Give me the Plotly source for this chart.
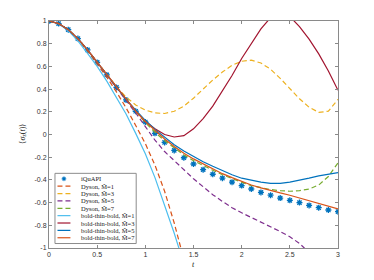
import plotly.graph_objects as go

# ---------------- data ----------------
T = [0.0, 0.1, 0.2, 0.3, 0.4, 0.5, 0.6, 0.7, 0.8, 0.9, 1.0,
     1.1, 1.2, 1.3, 1.4, 1.5, 1.6, 1.7, 1.8, 1.9, 2.0,
     2.1, 2.2, 2.3, 2.4, 2.5, 2.6, 2.7, 2.8, 2.9, 3.0]

iquapi = [1.0, 0.977, 0.924, 0.845, 0.745, 0.635, 0.525, 0.415, 0.305, 0.205, 0.11,
          0.01, -0.07, -0.14, -0.205, -0.26, -0.31, -0.35, -0.385, -0.42, -0.45,
          -0.48, -0.51, -0.535, -0.56, -0.58, -0.60, -0.625, -0.645, -0.665, -0.68]

dyson_m1 = [1.0, 0.977, 0.922, 0.84, 0.735, 0.625, 0.505, 0.375, 0.235, 0.08, -0.08,
            -0.27, -0.50, -0.78, -1.10, None, None, None, None, None, None,
            None, None, None, None, None, None, None, None, None, None]

dyson_m3 = [1.0, 0.977, 0.924, 0.845, 0.745, 0.635, 0.525, 0.42, 0.33, 0.26, 0.215,
            0.19, 0.185, 0.205, 0.25, 0.32, 0.40, 0.48, 0.55, 0.61, 0.645,
            0.655, 0.63, 0.575, 0.495, 0.405, 0.315, 0.24, 0.195, 0.205, 0.31]

dyson_m5 = [1.0, 0.977, 0.924, 0.845, 0.745, 0.635, 0.525, 0.415, 0.305, 0.19, 0.07,
            -0.05, -0.15, -0.23, -0.31, -0.39, -0.46, -0.53, -0.59, -0.645, -0.69,
            -0.73, -0.77, -0.81, -0.855, -0.90, -0.96, -1.04, None, None, None]

dyson_m7 = [1.0, 0.977, 0.924, 0.845, 0.745, 0.635, 0.525, 0.415, 0.305, 0.205, 0.105,
            0.02, -0.055, -0.12, -0.18, -0.23, -0.275, -0.315, -0.355, -0.39, -0.42,
            -0.45, -0.47, -0.485, -0.495, -0.50, -0.495, -0.48, -0.445, -0.37, -0.25]

btb_m1 = [1.0, 0.976, 0.915, 0.825, 0.715, 0.60, 0.47, 0.33, 0.18, 0.01, -0.17,
          -0.38, -0.62, -0.87, -1.14, None, None, None, None, None, None,
          None, None, None, None, None, None, None, None, None, None]

btb_m3 = [1.0, 0.977, 0.924, 0.845, 0.745, 0.635, 0.525, 0.415, 0.31, 0.21, 0.115,
          0.05, 0.0, -0.022, -0.01, 0.05, 0.14, 0.25, 0.38, 0.52, 0.67,
          0.80, 0.93, 1.03, 1.08, 1.04, 0.95, 0.84, 0.71, 0.56, 0.39]

btb_m5 = [1.0, 0.977, 0.924, 0.845, 0.745, 0.635, 0.525, 0.415, 0.31, 0.215, 0.125,
          0.045, -0.025, -0.09, -0.145, -0.195, -0.24, -0.28, -0.32, -0.355, -0.385,
          -0.405, -0.42, -0.43, -0.43, -0.42, -0.405, -0.385, -0.365, -0.35, -0.335]

btb_m7 = [1.0, 0.977, 0.924, 0.845, 0.745, 0.635, 0.525, 0.415, 0.305, 0.205, 0.115,
          0.035, -0.04, -0.105, -0.165, -0.215, -0.26, -0.305, -0.345, -0.38, -0.415,
          -0.445, -0.47, -0.495, -0.515, -0.535, -0.56, -0.58, -0.605, -0.63, -0.655]

x_tickvals = [0, 0.5, 1, 1.5, 2, 2.5, 3]
x_ticktext = ["0", "0.5", "1", "1.5", "2", "2.5", "3"]
y_tickvals = [-1, -0.8, -0.6, -0.4, -0.2, 0, 0.2, 0.4, 0.6, 0.8, 1]
y_ticktext = ["-1", "-0.8", "-0.6", "-0.4", "-0.2", "0", "0.2", "0.4", "0.6", "0.8", "1"]

legend_labels = ["iQuAPI",
                 "Dyson, M\u0302=1", "Dyson, M\u0302=3", "Dyson, M\u0302=5", "Dyson, M\u0302=7",
                 "bold-thin-bold, M\u0302=1", "bold-thin-bold, M\u0302=3",
                 "bold-thin-bold, M\u0302=5", "bold-thin-bold, M\u0302=7"]

# ---------------- styles ----------------
C_BLUE = "#0072BD"
C_ORANGE = "#D95319"
C_YELLOW = "#EDB120"
C_PURPLE = "#7E2F8E"
C_GREEN = "#77AC30"
C_CYAN = "#4DBEEE"
C_RED = "#A2142F"
DASH = "5px,3px"
LW = 1.2

line_series = [
    (dyson_m1, C_ORANGE, DASH),
    (dyson_m3, C_YELLOW, DASH),
    (dyson_m5, C_PURPLE, DASH),
    (dyson_m7, C_GREEN, DASH),
    (btb_m1, C_CYAN, "solid"),
    (btb_m3, C_RED, "solid"),
    (btb_m5, C_BLUE, "solid"),
    (btb_m7, C_ORANGE, "solid"),
]

fig = go.Figure()

fig.add_trace(go.Scatter(
    x=T, y=iquapi, mode="markers", showlegend=False,
    marker=dict(symbol="asterisk-open", size=5, color=C_BLUE,
                line=dict(color="#2a86cc", width=1.3)),
    cliponaxis=True))

for ys, col, dash in line_series:
    fig.add_trace(go.Scatter(
        x=T, y=ys, mode="lines", showlegend=False,
        line=dict(color=col, width=LW, dash=dash)))

# ---------------- layout geometry ----------------
OFF = 8                      # page body margin offset
W, H = 374, 280
PX0, PX1 = 48.5, 338.5       # target plot-area edges in page pixels
PY0, PY1 = 20.5, 248.5
L = PX0 - OFF
TOP = PY0 - OFF
PW, PH = PX1 - PX0, PY1 - PY0
R = W - L - PW
BOT = H - TOP - PH


def px2paper(xp, yp):
    return (xp - PX0) / PW, (PY1 - yp) / PH


# ---------------- manual legend (MATLAB-like compact box) ----------------
shapes = []
bx0, by0 = px2paper(54.5, 244)
bx1, by1 = px2paper(136, 173.5)
shapes.append(dict(type="rect", xref="paper", yref="paper", x0=bx0, x1=bx1,
                   y0=by0, y1=by1, fillcolor="white",
                   line=dict(color="#8c8c8c", width=1), layer="above"))

annotations = []
entry_styles = [(C_BLUE, None)] + [(c, d) for _, c, d in line_series]
for i, (lab, (col, dash)) in enumerate(zip(legend_labels, entry_styles)):
    yp = 179 + 7.4 * i
    xs0, yy = px2paper(57, yp)
    xs1, _ = px2paper(70, yp)
    if dash is None:
        cx, cy = px2paper(63.5, yp)
        r = 2.0
        rx, ry = r / PW, r / PH
        shapes.append(dict(type="circle", xref="paper", yref="paper",
                           x0=cx - rx, x1=cx + rx, y0=cy - ry, y1=cy + ry,
                           fillcolor=C_BLUE, line=dict(color="#6aaee0", width=0.8),
                           layer="above"))
    else:
        shapes.append(dict(type="line", xref="paper", yref="paper",
                           x0=xs0, x1=xs1, y0=yy, y1=yy, layer="above",
                           line=dict(color=col, width=LW, dash=dash)))
    tx, _ = px2paper(78.5, yp)
    annotations.append(dict(xref="paper", yref="paper", x=tx, y=yy,
                            xanchor="left", yanchor="middle", showarrow=False,
                            text=lab, font=dict(family="Liberation Serif", size=6.5,
                                                color="#222222")))

# axis titles
xt, yt = px2paper(193, 265)
annotations.append(dict(xref="paper", yref="paper", x=xt, y=yt, showarrow=False,
                        xanchor="center", yanchor="middle", text="<i>t</i>",
                        font=dict(family="Liberation Serif", size=8, color="#222222")))
xt2, yt2 = px2paper(22, 134)
annotations.append(dict(xref="paper", yref="paper", x=xt2, y=yt2, showarrow=False,
                        xanchor="center", yanchor="middle", textangle=-90,
                        text="\u27e8<i>σ</i><sub>z</sub>(<i>t</i>)\u27e9",
                        font=dict(family="Liberation Serif", size=8, color="#222222")))

axis_common = dict(showline=True, mirror="ticks", linecolor="#8a8a8a", linewidth=1,
                   ticks="inside", ticklen=3, tickcolor="#8a8a8a", tickwidth=1,
                   showgrid=False, zeroline=False,
                   tickfont=dict(family="Liberation Sans", size=7, color="#333333"))

fig.update_layout(
    width=W, height=H,
    margin=dict(l=L, r=R, t=TOP, b=BOT, autoexpand=False),
    paper_bgcolor="white", plot_bgcolor="white",
    xaxis=dict(range=[0, 3], tickvals=x_tickvals, ticktext=x_ticktext, **axis_common),
    yaxis=dict(range=[-1, 1], tickvals=y_tickvals, ticktext=y_ticktext, **axis_common),
    shapes=shapes, annotations=annotations, showlegend=False,
)

fig.write_html("out.html", config={"displayModeBar": False})
